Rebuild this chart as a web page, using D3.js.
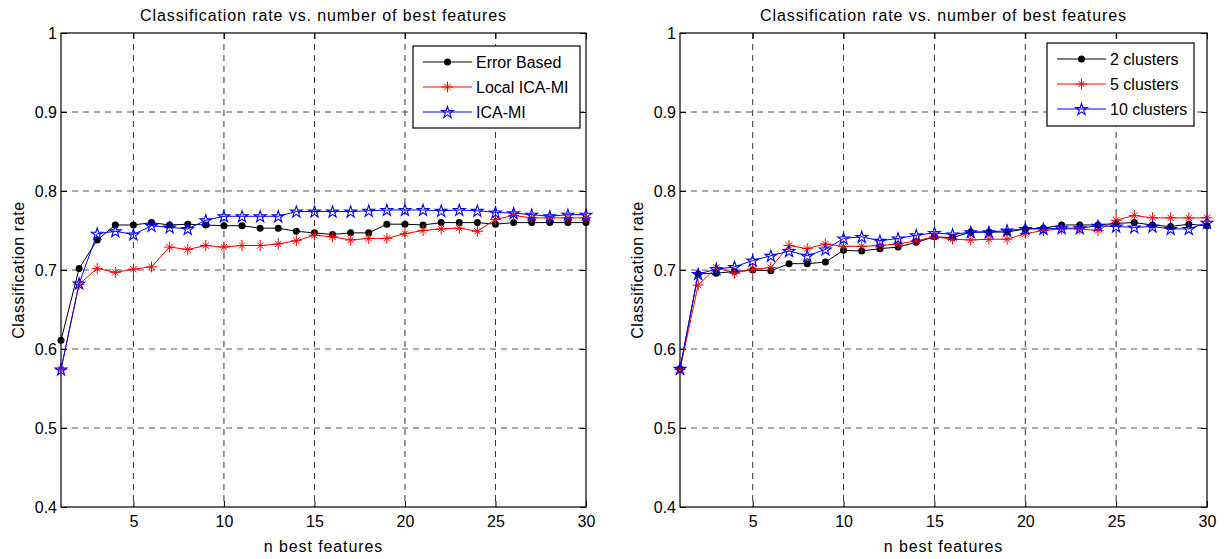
<!DOCTYPE html>
<html>
<head>
<meta charset="utf-8">
<script src="https://cdn.jsdelivr.net/npm/d3@7"></script>
<style>
  body { margin: 0; background: #fff; }
  text { font-family: "Liberation Sans", Arial, sans-serif; fill: #000; }
</style>
</head>
<body>
<svg id="chart" width="1229" height="559"></svg>
<script>
// data
const nFeatures = d3.range(1, 31);

const errorBased = [0.611, 0.702, 0.738, 0.757, 0.757, 0.760, 0.757, 0.758, 0.757, 0.756,
  0.756, 0.753, 0.753, 0.749, 0.747, 0.745, 0.747, 0.747, 0.758, 0.758,
  0.757, 0.760, 0.760, 0.760, 0.758, 0.760, 0.760, 0.760, 0.760, 0.760];
const localIcaMi = [0.574, 0.682, 0.702, 0.697, 0.701, 0.704, 0.729, 0.726, 0.731, 0.729,
  0.731, 0.731, 0.733, 0.737, 0.744, 0.742, 0.738, 0.740, 0.740, 0.746,
  0.750, 0.752, 0.753, 0.749, 0.764, 0.769, 0.766, 0.766, 0.766, 0.766];
const icaMi = [0.574, 0.683, 0.746, 0.749, 0.745, 0.756, 0.754, 0.752, 0.763, 0.768,
  0.768, 0.768, 0.768, 0.774, 0.774, 0.774, 0.774, 0.775, 0.776, 0.776,
  0.776, 0.775, 0.776, 0.775, 0.773, 0.772, 0.770, 0.768, 0.770, 0.770];

const clusters2 = [0.575, 0.695, 0.696, 0.698, 0.700, 0.699, 0.708, 0.708, 0.710, 0.725,
  0.724, 0.727, 0.729, 0.735, 0.742, 0.741, 0.748, 0.748, 0.748, 0.752,
  0.753, 0.757, 0.757, 0.757, 0.759, 0.760, 0.757, 0.755, 0.758, 0.756];
const clusters5 = [0.574, 0.681, 0.703, 0.696, 0.701, 0.703, 0.731, 0.727, 0.733, 0.730,
  0.730, 0.731, 0.733, 0.737, 0.742, 0.739, 0.738, 0.739, 0.739, 0.746,
  0.750, 0.752, 0.752, 0.750, 0.763, 0.769, 0.766, 0.766, 0.766, 0.766];
const clusters10 = [0.575, 0.695, 0.701, 0.704, 0.712, 0.718, 0.724, 0.718, 0.726, 0.740,
  0.742, 0.737, 0.740, 0.744, 0.747, 0.745, 0.748, 0.748, 0.750, 0.752,
  0.752, 0.753, 0.753, 0.756, 0.755, 0.754, 0.755, 0.752, 0.752, 0.760];

const xTicks = [5, 10, 15, 20, 25, 30];
const yTicks = [0.4, 0.5, 0.6, 0.7, 0.8, 0.9, 1];

const svg = d3.select("#chart");

// marker shapes (matlab-like: filled dot, asterisk, pentagram)
function drawMarker(g, kind, color, x, y) {
  if (kind === "dot") {
    g.append("circle").attr("cx", x).attr("cy", y).attr("r", 3.5).attr("fill", color);
  } else if (kind === "star6") {
    const r = 5.5;
    [0, 45, 90, 135].forEach(a => {
      const t = a * Math.PI / 180;
      const rr = (a % 90 === 0) ? r : r * 0.8;
      g.append("line")
        .attr("x1", x - rr * Math.cos(t)).attr("y1", y - rr * Math.sin(t))
        .attr("x2", x + rr * Math.cos(t)).attr("y2", y + rr * Math.sin(t))
        .attr("stroke", color).attr("stroke-width", 1);
    });
  } else {
    g.append("path")
      .attr("d", d3.symbol(d3.symbolStar, 42)())
      .attr("transform", `translate(${x},${y + 0.5})`)
      .attr("fill", "none").attr("stroke", color).attr("stroke-width", 1.1);
  }
}

function panel(left, right, series, legendBox) {
  const top = 33, bottom = 507;
  const x = d3.scaleLinear().domain([1, 30]).range([left, right]);
  const y = d3.scaleLinear().domain([0.4, 1]).range([bottom, top]);
  const g = svg.append("g");

  // grid
  g.selectAll(".vg").data(xTicks.slice(0, -1)).join("line")
    .attr("x1", d => x(d)).attr("x2", d => x(d)).attr("y1", top).attr("y2", bottom)
    .attr("stroke", "#333").attr("stroke-dasharray", "6,5").attr("stroke-width", 1);
  g.selectAll(".hg").data(yTicks.slice(1, -1)).join("line")
    .attr("x1", left).attr("x2", right).attr("y1", d => y(d)).attr("y2", d => y(d))
    .attr("stroke", "#555").attr("stroke-dasharray", "6,5").attr("stroke-width", 1);

  // axes with inward ticks
  const xb = g.append("g").attr("transform", `translate(0,${bottom})`)
    .call(d3.axisBottom(x).tickValues(xTicks).tickSize(-6).tickPadding(9));
  const xt = g.append("g").attr("transform", `translate(0,${top})`)
    .call(d3.axisTop(x).tickValues(xTicks).tickSize(-6).tickFormat(""));
  const yl = g.append("g").attr("transform", `translate(${left},0)`)
    .call(d3.axisLeft(y).tickValues(yTicks).tickSize(-6).tickPadding(4).tickFormat(d3.format("~g")));
  const yr = g.append("g").attr("transform", `translate(${right},0)`)
    .call(d3.axisRight(y).tickValues(yTicks).tickSize(-6).tickFormat(""));
  [xb, xt, yl, yr].forEach(a => {
    a.select(".domain").remove();
    a.selectAll("line").attr("stroke", "#000");
    a.selectAll("text").attr("font-size", 16).attr("font-family", "Liberation Sans, Arial, sans-serif");
  });
  g.append("rect").attr("x", left).attr("y", top).attr("width", right - left).attr("height", bottom - top)
    .attr("fill", "none").attr("stroke", "#000").attr("stroke-width", 1.2);

  // series
  const line = d3.line().x((d, i) => x(nFeatures[i])).y(d => y(d));
  series.forEach(s => {
    g.append("path").datum(s.values).attr("d", line)
      .attr("fill", "none").attr("stroke", s.color).attr("stroke-width", 1);
    const mg = g.append("g");
    s.values.forEach((v, i) => drawMarker(mg, s.marker, s.color, x(nFeatures[i]), y(v)));
  });

  // labels
  const cx = (left + right) / 2;
  svg.append("text").attr("x", cx).attr("y", 20.5).attr("text-anchor", "middle")
    .attr("font-size", 16).attr("letter-spacing", 0.9).text("Classification rate vs. number of best features");
  svg.append("text").attr("x", cx).attr("y", 552).attr("text-anchor", "middle")
    .attr("font-size", 16).attr("letter-spacing", 0.9).text("n best features");
  svg.append("text").attr("transform", `translate(${left - 37},${(top + bottom) / 2}) rotate(-90)`)
    .attr("text-anchor", "middle").attr("font-size", 16).attr("letter-spacing", 0.6).text("Classification rate");

  // legend
  const lb = legendBox;
  svg.append("rect").attr("x", lb.x).attr("y", lb.y).attr("width", lb.w).attr("height", lb.h)
    .attr("fill", "#fff").attr("stroke", "#000").attr("stroke-width", 1.2);
  series.forEach((s, i) => {
    const yy = lb.y + 16 + i * 25;
    svg.append("line").attr("x1", lb.x + 10).attr("x2", lb.x + 59).attr("y1", yy).attr("y2", yy)
      .attr("stroke", s.color).attr("stroke-width", 1);
    drawMarker(svg, s.marker, s.color, lb.x + 34.5, yy);
    svg.append("text").attr("x", lb.x + 63).attr("y", yy + 6).attr("font-size", 16).text(s.name);
  });
}

panel(61, 586, [
  { name: "Error Based", values: errorBased, color: "#000", marker: "dot" },
  { name: "Local ICA-MI", values: localIcaMi, color: "#ff0000", marker: "star6" },
  { name: "ICA-MI", values: icaMi, color: "#0000ff", marker: "pent" }
], { x: 413, y: 46, w: 167, h: 82 });

panel(680, 1207, [
  { name: "2 clusters", values: clusters2, color: "#000", marker: "dot" },
  { name: "5 clusters", values: clusters5, color: "#ff0000", marker: "star6" },
  { name: "10 clusters", values: clusters10, color: "#0000ff", marker: "pent" }
], { x: 1047, y: 43, w: 147, h: 83 });
</script>
</body>
</html>
